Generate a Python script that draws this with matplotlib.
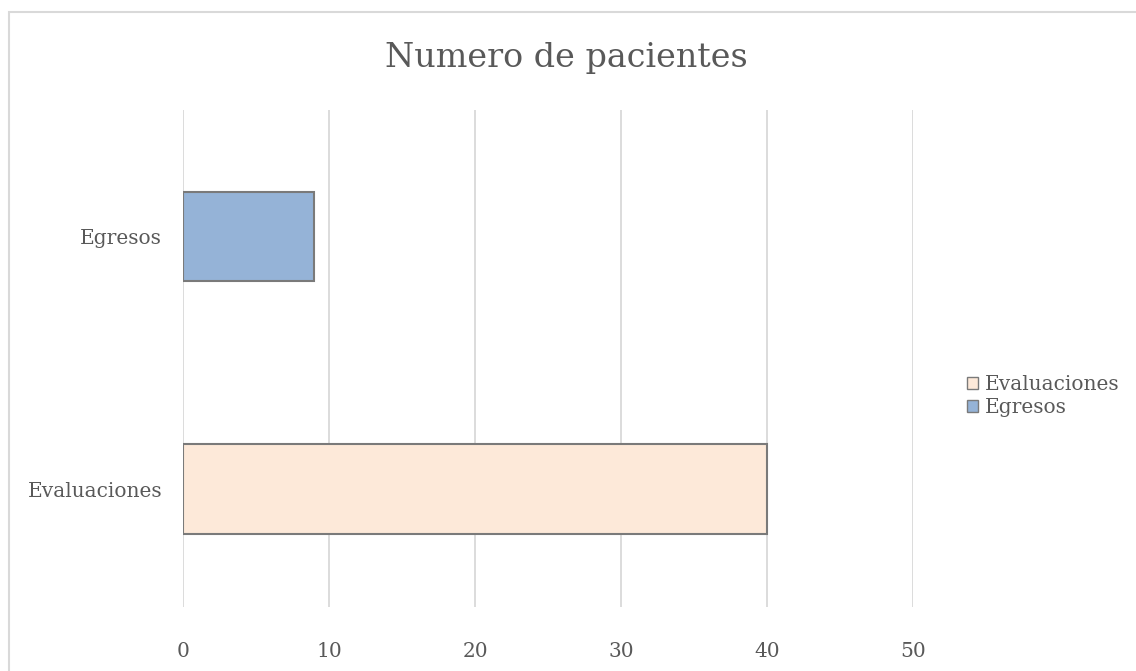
import matplotlib
matplotlib.use("Agg")
import matplotlib.pyplot as plt
from matplotlib.patches import Rectangle, Patch

categories = ["Evaluaciones", "Egresos"]
values = [40, 9]
colors = ["#fde9d9", "#95b3d7"]
xticks = [0, 10, 20, 30, 40, 50]

plt.rcParams['font.family'] = ['DejaVu Serif']
text_color = "#595959"
grid_color = "#d9d9d9"

fig = plt.figure(figsize=(11.36, 6.71), dpi=100)
ax = fig.add_axes([183 / 1136, 1 - 607 / 671, 730 / 1136, 497 / 671])

pos = list(range(len(categories)))
ax.barh(pos, values, height=0.356, color=colors, edgecolor="#7a7a7a",
        linewidth=1.5, zorder=3)

ax.set_xlim(0, 50)
ax.set_ylim(-0.467, 1.501)
ax.set_xticks(xticks)
ax.set_yticks(pos)
ax.set_yticklabels(categories)
ax.grid(axis="x", color=grid_color, linewidth=1.3, zorder=0)
for s in ax.spines.values():
    s.set_visible(False)
ax.tick_params(length=0, labelsize=14.5, colors=text_color)
ax.tick_params(axis="x", pad=25)
ax.tick_params(axis="y", pad=15)

fig.text(566 / 1136, 1 - 58 / 671, "Numero de pacientes",
         ha="center", va="center", fontsize=24, color=text_color)

# outer chart frame (extends past the image edge)
fig.patches.append(Rectangle((9, 659 - 700), 1200, 700, transform=None,
                             fill=False, edgecolor=grid_color, linewidth=1.5))

handles = [Patch(facecolor=colors[i], edgecolor="#7a7a7a", label=categories[i])
           for i in range(len(categories))]
leg = fig.legend(handles=handles, loc="center left",
                 bbox_to_anchor=(949 / 1136, 1 - 396 / 671), frameon=False,
                 fontsize=14.5, handlelength=0.55, handleheight=0.55,
                 handletextpad=0.35, labelspacing=0.2)
for t in leg.get_texts():
    t.set_color(text_color)

fig.savefig("out.png", dpi=100)
